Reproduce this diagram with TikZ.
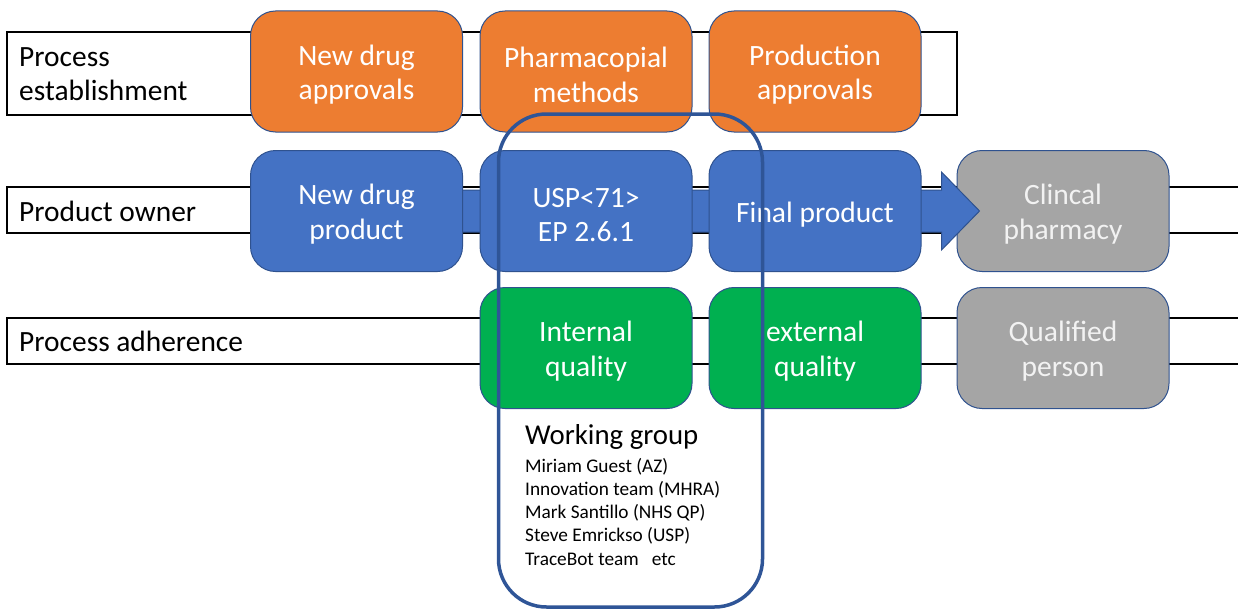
\documentclass[tikz,border=0pt]{standalone}
\usepackage{fontspec}
\setmainfont{Carlito}
\usetikzlibrary{calc}
\definecolor{boxorange}{HTML}{ED7D31}
\definecolor{boxblue}{HTML}{4472C4}
\definecolor{boxgreen}{HTML}{00B050}
\definecolor{boxgrey}{HTML}{A5A5A5}
\definecolor{boxedge}{HTML}{2F528F}
\definecolor{groupedge}{HTML}{2F5597}
% invisible strut that lowers the card text a little
\newcommand\lowr{\rule{0pt}{27pt}}
\begin{document}
\begin{tikzpicture}[x=1pt,y=-1pt,
  lane/.style={draw=black,line width=1.3pt},
  lanelabel/.style={anchor=west,inner sep=0pt,align=left,font=\fontsize{29.4}{34.5}\selectfont},
  card/.style={draw=boxedge,line width=1pt,rounded corners=25pt,
    minimum width=212pt,minimum height=121pt,inner sep=0pt,
    text=white,align=center,font=\fontsize{29.5}{34.5}\selectfont},
  orangecard/.style={card,fill=boxorange},
  bluecard/.style={card,fill=boxblue},
  greencard/.style={card,fill=boxgreen},
  greycard/.style={card,fill=boxgrey,text=white!95!black},
  bigarrow/.style={fill=boxblue,draw=boxedge,line width=1pt},
  group/.style={draw=groupedge,line width=3.5pt,rounded corners=48pt},
  grouptitle/.style={anchor=base west,inner sep=0pt,font=\fontsize{28.8}{34}\selectfont},
  member/.style={anchor=base west,inner sep=0pt,font=\fontsize{19.3}{23}\selectfont}]
\useasboundingbox (0,0) rectangle (1238,610);
\clip (0,0) rectangle (1238,610);

% swim lanes
\draw[lane] (7,32) rectangle (957,115);
\draw[lane] (1245,187) -- (7,187) -- (7,233) -- (1245,233);
\draw[lane] (1245,318) -- (7,318) -- (7,364) -- (1245,364);
\node[lanelabel] (l1) at (19,74) {Process\\establishment};
\node[lanelabel] (l2) at (19,211) {Product owner};
\node[lanelabel] (l3) at (19,341) {Process adherence};

% process establishment
\node[orangecard] (nda) at (356.5,71.5) {\lowr New drug\\approvals};
\node[orangecard] (phm) at (586,71.5) {\lowr Pharmacopial\\methods};
\node[orangecard] (pra) at (815,71.5) {\lowr Production\\approvals};

% downstream stages
\node[greycard] (clin) at (1063,211) {\lowr Clincal\\pharmacy};
\node[greycard] (qp) at (1063,348) {\lowr Qualified\\person};

% product flow arrow
\coordinate (atip) at ($(clin.west)+(23,0)$);
\draw[bigarrow] ($(nda.center |- clin.center)+(0,-21)$) -- ($(atip)+(-38,-21)$)
  -- ($(atip)+(-38,-39)$) -- (atip) -- ($(atip)+(-38,39)$)
  -- ($(atip)+(-38,21)$) -- ($(nda.center |- clin.center)+(0,21)$) -- cycle;

% product owner
\node[bluecard] (ndp) at (356.5,211) {\lowr New drug\\product};
\node[bluecard] (usp) at (586,211) {\lowr USP<71>\\EP 2.6.1};
\node[bluecard] (fin) at (815,211) {\lowr Final product};

% process adherence
\node[greencard] (iq) at (586,348) {\lowr Internal\\quality};
\node[greencard] (eq) at (815,348) {\lowr external\\quality};

% working group frame
\draw[group] (498.5,114) rectangle (762.5,607);
\node[grouptitle] (wg) at (525,444) {Working group};
\node[member] (m1) at (525,472) {Miriam Guest (AZ)};
\node[member] (m2) at (525,495.3) {Innovation team (MHRA)};
\node[member] (m3) at (525,518.6) {Mark Santillo (NHS QP)};
\node[member] (m4) at (525,541.9) {Steve Emrickso (USP)};
\node[member] (m5) at (525,565.2) {TraceBot team\ \ \ etc};
\end{tikzpicture}
\end{document}
